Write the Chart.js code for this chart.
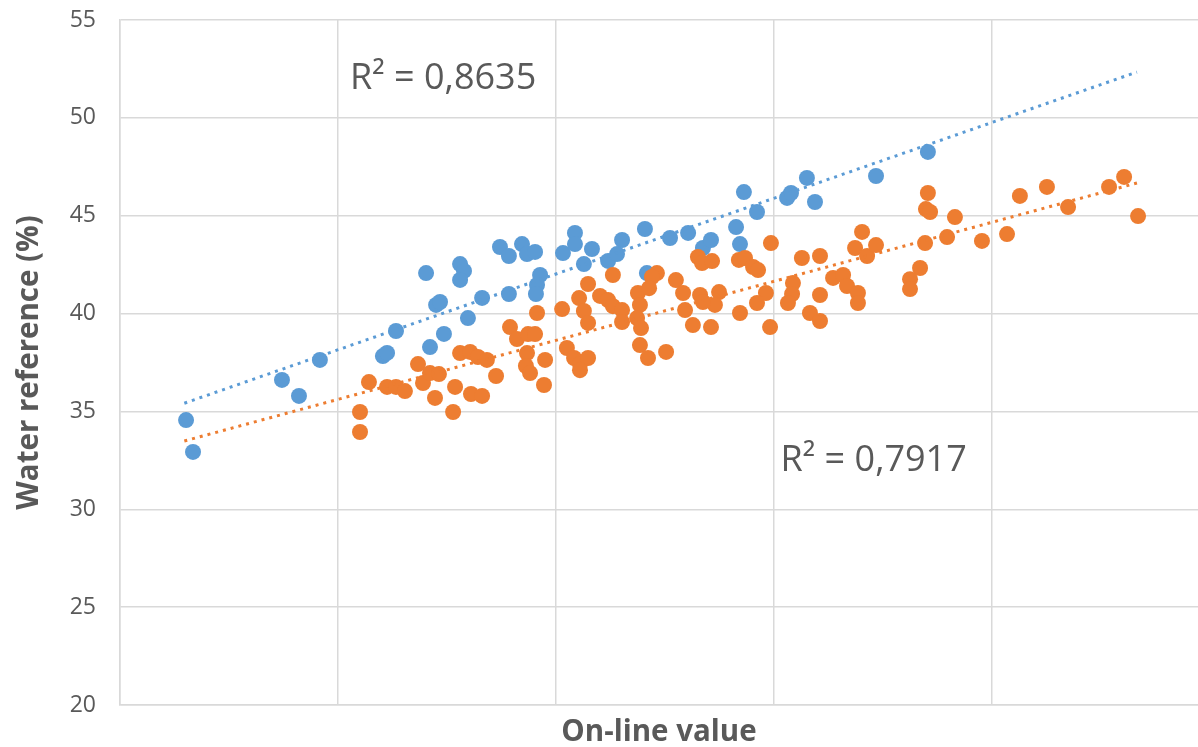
<!DOCTYPE html>
<html>
<head>
<meta charset="utf-8">
<title>Water reference vs on-line value</title>
<script src="https://cdn.jsdelivr.net/npm/chart.js@4.4.1/dist/chart.umd.min.js"></script>
<style>
  html, body { margin: 0; padding: 0; background: #fff; overflow: hidden; }
  #wrap { width: 1198px; height: 747px; }
</style>
</head>
<body>
<div id="wrap"><canvas id="chart"></canvas></div>
<script>
// ─── data (x axis has no labels, grid step = 10) ───
const blueX = [3.03, 3.35, 7.43, 8.21, 9.17, 12.06, 12.25, 12.66, 14.04, 14.22, 14.50, 14.68, 14.86,
  15.60, 15.78, 15.60, 15.96, 16.61, 17.43, 17.84, 17.84, 18.44, 18.67, 19.04, 19.27, 19.13, 19.08,
  20.32, 20.87, 20.87, 21.28, 21.65, 22.39, 22.80, 23.03, 24.08, 24.17, 25.23, 26.06, 26.74, 27.11,
  28.26, 28.44, 28.62, 29.22, 30.60, 30.78, 31.51, 31.88, 34.68, 37.06]
const blueY = [34.56, 32.93, 36.61, 35.79, 37.63, 37.83, 37.99, 39.11, 42.07, 38.29, 40.44, 40.59, 38.96,
  42.53, 42.18, 41.72, 39.77, 40.80, 43.40, 42.94, 41.00, 43.55, 43.04, 43.15, 41.97, 41.46, 41.00,
  43.09, 44.12, 43.55, 42.53, 43.30, 42.69, 43.04, 43.76, 44.32, 42.07, 43.86, 44.12, 43.35, 43.76,
  44.42, 43.55, 46.21, 45.19, 45.91, 46.16, 46.93, 45.70, 47.03, 48.26]

const orangeX = [11.01, 11.01, 11.42, 12.25, 12.66, 13.07, 13.67, 13.90, 14.22, 14.63, 14.45, 15.28, 15.37,
  15.60, 16.06, 16.42, 16.83, 16.10, 16.61, 17.25, 17.89, 18.21, 18.72, 19.04, 19.13, 18.67, 18.62,
  18.81, 19.50, 19.45,
  20.28, 20.50, 20.83, 21.10, 21.47, 21.10, 21.06, 21.28, 21.47, 21.47, 22.02, 22.39, 22.61, 23.03,
  22.61, 23.03, 23.76, 23.85, 23.72, 23.90, 23.85, 24.22, 24.63, 24.40, 24.27, 25.05, 25.50,
  26.51, 26.70, 27.16, 28.39, 28.67, 29.04, 29.27, 29.86, 31.28, 32.11, 34.04, 33.72, 34.27, 34.68,
  36.93, 36.70, 36.24, 36.24, 32.71, 33.17, 33.35, 33.85, 33.85, 30.87, 30.83, 30.64, 32.11, 31.65,
  32.11, 29.63, 29.22, 28.44, 29.82, 27.48, 27.29, 26.61, 26.74, 25.83, 25.92, 26.28, 27.11,
  37.06, 36.97, 37.16, 38.30, 37.94, 39.54, 40.69, 41.28, 42.52, 43.49, 45.37, 46.06, 46.70]
const orangeY = [34.97, 33.95, 36.50, 36.25, 36.25, 36.04, 37.42, 36.45, 36.96, 36.91, 35.69, 34.97, 36.25,
  37.98, 38.04, 37.78, 37.63, 35.89, 35.79, 36.81, 39.31, 38.70, 38.95, 38.95, 40.03, 37.98, 37.32,
  36.96, 37.63, 36.35,
  40.23, 38.24, 37.73, 37.42, 37.73, 37.11, 40.79, 40.13, 41.51, 39.52, 40.90, 40.69, 40.38, 40.18,
  41.97, 39.57, 41.05, 40.44, 39.77, 39.26, 38.39, 37.73, 42.07, 41.87, 41.30, 38.04, 41.71,
  42.89, 42.58, 42.68, 42.74, 42.84, 42.38, 42.22, 43.60, 42.84, 42.94, 44.17, 43.35, 42.94, 43.50,
  43.60, 42.33, 41.76, 41.25, 41.82, 41.97, 41.41, 41.05, 40.54, 41.56, 41.00, 40.54, 40.95, 40.03,
  39.62, 41.05, 40.54, 40.03, 39.31, 41.10, 40.44, 40.95, 40.59, 41.05, 40.18, 39.41, 39.31,
  46.16, 45.34, 45.19, 44.93, 43.91, 43.71, 44.06, 46.01, 46.47, 45.44, 46.47, 46.98, 44.98]

// trendline end points as drawn in the picture
const trendX       = [2.95, 46.65]
const blueTrendY   = [35.42, 52.34]
const orangeTrendY = [33.49, 46.67]

const yTicks = [20, 25, 30, 35, 40, 45, 50, 55]

const r2Labels = [
  { text: 'R² = 0,8635', x: 10.55, y: 52.0 },
  { text: 'R² = 0,7917', x: 30.3,  y: 32.5 },
]

// ─── style ───
const BLUE   = '#5B9BD5'
const ORANGE = '#ED7D31'
const GRID   = '#D9D9D9'
const TEXT   = '#595959'
const FONT   = "'Open Sans', sans-serif"

const zip = (xs, ys) => xs.map((x, i) => ({ x, y: ys[i] }))

// R² texts, placed in data coordinates
const r2Plugin = {
  id: 'r2Text',
  afterDatasetsDraw(chart) {
    const { ctx, scales: { x, y } } = chart
    ctx.save()
    ctx.font = `36px ${FONT}`
    ctx.fillStyle = TEXT
    ctx.textBaseline = 'middle'
    r2Labels.forEach(l => ctx.fillText(l.text, x.getPixelForValue(l.x), y.getPixelForValue(l.y)))
    ctx.restore()
  }
}

const trendStyle = color => ({
  type: 'line',
  borderColor: color, borderWidth: 3, borderDash: [3, 5], borderCapStyle: 'butt',
  pointRadius: 0, fill: false, showLine: true, order: -1,
})

new Chart(document.getElementById('chart'), {
  type: 'scatter',
  data: {
    datasets: [
      { ...trendStyle(BLUE),   label: 'Blue trend',   data: zip(trendX, blueTrendY) },
      { ...trendStyle(ORANGE), label: 'Orange trend', data: zip(trendX, orangeTrendY) },
      { label: 'Orange', data: zip(orangeX, orangeY), backgroundColor: ORANGE, borderColor: ORANGE,
        pointRadius: 8, borderWidth: 0, order: 1 },
      { label: 'Blue', data: zip(blueX, blueY), backgroundColor: BLUE, borderColor: BLUE,
        pointRadius: 8, borderWidth: 0, order: 2 },
    ]
  },
  options: {
    responsive: true, maintainAspectRatio: false, animation: false,
    layout: { autoPadding: false, padding: { top: 20, right: 0, bottom: 0, left: 0 } },
    plugins: { legend: { display: false }, tooltip: { enabled: false } },
    scales: {
      x: {
        type: 'linear', min: 0, max: 49.45,
        ticks: { display: false, stepSize: 10 },
        grid: {
          color: c => (c.tick && c.tick.value % 10 === 0) ? GRID : 'rgba(0,0,0,0)',
          lineWidth: 1.5, drawTicks: false
        },
        border: { color: GRID, width: 1.5 },
        title: { display: true, text: 'On-line value', color: TEXT,
                 font: { family: FONT, size: 29.5, weight: 'bold', lineHeight: 1 },
                 padding: { top: 0, bottom: 0 } },
        afterFit: s => { s.height = 42 }
      },
      y: {
        min: 20, max: 55,
        afterBuildTicks: s => { s.ticks = yTicks.map(v => ({ value: v })) },
        ticks: { color: TEXT, font: { family: FONT, size: 23 }, padding: 0 },
        // invisible tick marks push the labels 24px left of the axis
        grid: { color: GRID, lineWidth: 1.5, drawTicks: true, tickLength: 24, tickColor: 'rgba(0,0,0,0)' },
        border: { color: GRID, width: 1.5 },
        title: { display: true, text: 'Water reference (%)', color: TEXT,
                 font: { family: FONT, size: 29.5, weight: 'bold', lineHeight: 1 },
                 padding: { top: 15, bottom: 0 } },
        afterFit: s => { s.width = 120 }
      }
    }
  },
  plugins: [r2Plugin]
})
</script>
</body>
</html>
